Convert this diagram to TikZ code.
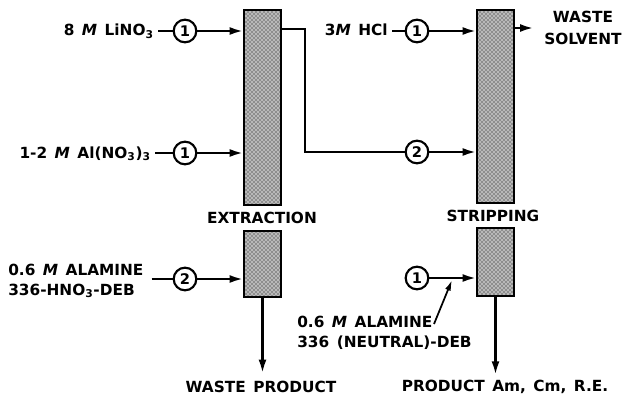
\documentclass[tikz,border=0pt]{standalone}
\usepackage{fontspec}
\setmainfont{DejaVu Sans}[WordSpace=1.4]
\usetikzlibrary{arrows.meta,fit,patterns}
\begin{document}
\begin{tikzpicture}[x=0.75pt,y=-0.75pt,
  every node/.style={font=\fontsize{11.5}{13}\selectfont\bfseries},
  lbl/.style={inner sep=0pt},
  num/.style={circle,draw,line width=1.6pt,minimum size=17pt,inner sep=0pt,font=\fontsize{11}{11}\selectfont\bfseries},
  col/.style={draw,line width=1.6pt,inner sep=0pt,preaction={fill=gray!55},pattern=crosshatch dots,pattern color=black},
  flow/.style={line width=1.7pt,-{Latex[length=10pt,width=6pt]}},
  pipe/.style={line width=1.7pt}]
\useasboundingbox (0,0) rectangle (628,396);
% columns
\node[col,fit={(244,10)(281,205)}] (eU) {};
\node[col,fit={(244,231)(281,297)}] (eL) {};
\node[lbl] (eT) at (262,218) {EXTRACTION};
\node[col,fit={(477,10)(514,203)}] (sU) {};
\node[col,fit={(477,228)(514,296)}] (sL) {};
\node[lbl] (sT) at (493,216) {STRIPPING};
% circles
\node[num] (c1) at (185,31) {1};
\node[num] (c2) at (185,153) {1};
\node[num] (c3) at (185,279) {2};
\node[num] (c4) at (417,31) {1};
\node[num] (c5) at (417,152) {2};
\node[num] (c6) at (417,278) {1};
% labels
\node[lbl,anchor=base east] (l1) at (154,36) {8 \textit{M} LiNO\textsubscript{3}};
\node[lbl,anchor=base east] (l2) at (151,158) {1-2 \textit{M} Al(NO\textsubscript{3})\textsubscript{3}};
\node[lbl,anchor=west,align=left,font=\fontsize{11.5}{15}\selectfont\bfseries] (l3) at (8,281) {0.6 \textit{M} ALAMINE\\336-HNO\textsubscript{3}-DEB};
\node[lbl,anchor=base east] (l4) at (388,36) {3\textit{M} HCl};
\node[lbl,align=center,font=\fontsize{11.5}{16.5}\selectfont\bfseries] (l5) at (583,28) {WASTE\\SOLVENT};
\node[lbl] (l6) at (261,387) {WASTE PRODUCT};
\node[lbl] (l7) at (505,387) {PRODUCT Am, Cm, R.E.};
\node[lbl,anchor=west,align=left,font=\fontsize{11.5}{15}\selectfont\bfseries] (l8) at (297,333) {0.6 \textit{M} ALAMINE\\336 (NEUTRAL)-DEB};
% coordinates
\coordinate (ex) at (281,29);
\coordinate (bend) at (305,29);
\coordinate (ws) at (514,28);
\coordinate (q) at (434,324);
\coordinate (p) at (452,280);
% extraction feeds
\draw[pipe,shorten <=3pt] (c1 -| l1.east) -- (c1.west);
\draw[flow] (c1.east) -- (c1 -| eU.west);
\draw[pipe,shorten <=3pt] (c2 -| l2.east) -- (c2.west);
\draw[flow] (c2.east) -- (c2 -| eU.west);
\draw[pipe,shorten <=6pt] (c3 -| l3.east) -- (c3.west);
\draw[flow] (c3.east) -- (c3 -| eL.west);
\draw[flow,shorten >=6pt] (eL.south) -- (eL.south |- l6.north);
% transfer
\draw[pipe] (ex) -- (bend) |- (c5.west);
\draw[flow] (c5.east) -- (c5 -| sU.west);
% stripping
\draw[pipe,shorten <=3pt] (c4 -| l4.east) -- (c4.west);
\draw[flow] (c4.east) -- (c4 -| sU.west);
\draw[flow,shorten >=8pt] (ws) -- (ws -| l5.west);
\draw[flow] (c6.east) -- (c6 -| sL.west);
\draw[line width=1.3pt,-{Latex[length=8pt,width=4.5pt]}] (q) -- (p);
\draw[flow,shorten >=4pt] (sL.south) -- (sL.south |- l7.north);
\end{tikzpicture}
\end{document}
